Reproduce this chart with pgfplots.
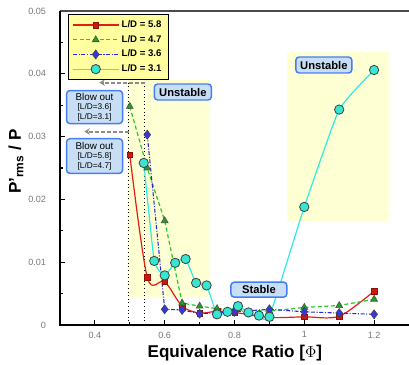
\documentclass[border=0pt]{standalone}
\usepackage{fontspec}
\setmainfont{Liberation Sans}
\usepackage{pgfplots}
\pgfplotsset{compat=1.18}
\usetikzlibrary{arrows.meta}
\definecolor{redline}{RGB}{225,30,20}
\definecolor{redmark}{RGB}{205,25,10}
\definecolor{greenline}{RGB}{40,200,40}
\definecolor{greenmark}{RGB}{30,160,30}
\definecolor{blueline}{RGB}{40,40,220}
\definecolor{bluemark}{RGB}{55,55,225}
\definecolor{cyanline}{RGB}{45,235,225}
\definecolor{cyanmark}{RGB}{55,230,210}
\definecolor{regionyellow}{RGB}{255,255,212}
\definecolor{legendyellow}{RGB}{255,255,160}
\definecolor{boxfill}{RGB}{200,222,245}
\definecolor{boxdraw}{RGB}{70,125,245}
\definecolor{tickgray}{RGB}{120,120,120}
\tikzset{note/.style={draw=boxdraw, fill=boxfill, line width=1.1pt, rounded corners=2.5pt, inner sep=1pt, align=center, font=\bfseries\fontsize{8.4}{9}\selectfont}}
\begin{document}
\begin{tikzpicture}
\begin{axis}[
  scale only axis, width=261.75pt, height=235.5pt,
  xmin=0.3, xmax=1.3, ymin=0, ymax=0.05,
  axis y line*=left,
  xtick pos=bottom,
  clip=false,
  axis line style={draw=black!70, line width=0.9pt},
  xtick={0.4,0.6,0.8,1.0,1.2},
  minor xtick={0.5,0.7,0.9,1.1},
  ytick={0,0.01,0.02,0.03,0.04,0.05},
  minor ytick={0.005,0.015,0.025,0.035,0.045},
  scaled y ticks=false, scaled x ticks=false,
  tick align=inside,
  major tick length=3.75pt, minor tick length=2.25pt,
  tick style={black, line width=0.8pt},
  /pgf/number format/assume math mode=true,
  yticklabel style={/pgf/number format/fixed, /pgf/number format/precision=2, xshift=-7pt},
  xticklabel style={/pgf/number format/fixed, yshift=-1.5pt},
  ticklabel style={font=\fontsize{6.8}{7}\selectfont, text=tickgray},
  xlabel={Equivalence Ratio [$\Phi$]},
  ylabel={P'\textsubscript{rms} / P},
  every axis x label/.style={at={(rel axis cs:0.501,-0.089)}, anchor=center, font=\bfseries\fontsize{12.8}{15}\selectfont},
  every axis y label/.style={at={(rel axis cs:-0.126,0.52)}, anchor=center, rotate=90, font=\bfseries\fontsize{12.8}{15}\selectfont},
  legend style={at={(rel axis cs:0.023,0.99)}, anchor=north west, fill=legendyellow, draw=black, line width=0.7pt, font=\bfseries\fontsize{7.2}{8}\selectfont, row sep=0.3pt, inner xsep=3pt, inner ysep=2.5pt},
  legend cell align=left,
  legend image code/.code={\draw[mark repeat=2, mark phase=2] plot coordinates {(0pt,0pt) (17pt,0pt) (34pt,0pt)};},
]
% highlighted regions
\fill[regionyellow] (axis cs:0.492,0.0044) rectangle (axis cs:0.730,0.0390);
\fill[regionyellow] (axis cs:0.950,0.0165) rectangle (axis cs:1.242,0.0434);
% blow-out limits
\draw[black, dotted, line width=0.7pt] (axis cs:0.497,0) -- (axis cs:0.497,0.0386);
\draw[black, dotted, line width=0.7pt] (axis cs:0.543,0) -- (axis cs:0.543,0.0386);

\addplot[redline, line width=0.9pt, smooth, tension=0.5, mark=square*, mark size=2pt,
  mark options={fill=redmark, draw=redmark!70!black, line width=0.3pt, solid}]
  coordinates {(0.50,0.0271) (0.55,0.0076) (0.60,0.0069) (0.65,0.0030) (0.70,0.0019) (0.75,0.0022) (0.80,0.0020) (0.90,0.0012) (1.00,0.0013) (1.10,0.0014) (1.20,0.0054)};
\addlegendentry{L/D = 5.8}
\addplot[greenline, line width=0.9pt, dash pattern=on 3pt off 2pt, mark=triangle*, mark size=3pt,
  mark options={fill=greenmark, draw=black!70, line width=0.4pt, solid}]
  coordinates {(0.50,0.0348) (0.55,0.0250) (0.60,0.0166) (0.65,0.0035) (0.70,0.0030) (0.75,0.0026) (0.80,0.0024) (0.90,0.0022) (1.00,0.0028) (1.10,0.0031) (1.20,0.0041)};
\addlegendentry{L/D = 4.7}
\addplot[blueline, line width=0.8pt, dash pattern=on 3pt off 1.2pt on 0.8pt off 1.2pt, mark=diamond*, mark size=3.4pt,
  mark options={fill=bluemark, draw=black!75, line width=0.4pt, solid}]
  coordinates {(0.55,0.0303) (0.60,0.0025) (0.65,0.0024) (0.70,0.0018) (0.80,0.0021) (0.90,0.0025) (1.00,0.0021) (1.10,0.0019) (1.20,0.0017)};
\addlegendentry{L/D = 3.6}
\addplot[cyanline, line width=0.9pt, smooth, tension=0.25, mark=*, mark size=3.5pt,
  mark options={fill=cyanmark, draw=black!75, line width=0.6pt, solid}]
  coordinates {(0.54,0.0258) (0.57,0.0102) (0.60,0.0079) (0.63,0.0099) (0.66,0.0105) (0.69,0.0067) (0.72,0.0063) (0.75,0.0017) (0.78,0.0021) (0.81,0.0030) (0.84,0.0020) (0.87,0.0015) (0.90,0.0013) (1.00,0.0188) (1.10,0.0343) (1.20,0.0406)};
\addlegendentry{L/D = 3.1}

% arrows
\draw[black!45, line width=1.5pt, dash pattern=on 3pt off 1.5pt, -{Stealth[length=4pt,width=5pt]}] (axis cs:0.543,0.0386) -- (axis cs:0.413,0.0386);
\draw[black!45, line width=1.5pt, dash pattern=on 3pt off 1.5pt, -{Stealth[length=4pt,width=5pt]}] (axis cs:0.497,0.0308) -- (axis cs:0.370,0.0308);
% notes
\node[note, minimum width=42pt, minimum height=24.75pt, font=\fontsize{7.4}{8}\selectfont] at (axis cs:0.399,0.0347) {Blow out\\[-1pt]{\fontsize{6.2}{7}\selectfont [L/D=3.6]}\\[-1pt]{\fontsize{6.2}{7}\selectfont [L/D=3.1]}};
\node[note, minimum width=42pt, minimum height=26pt, font=\fontsize{7.4}{8}\selectfont] at (axis cs:0.399,0.0269) {Blow out\\[-1pt]{\fontsize{6.2}{7}\selectfont [L/D=5.8]}\\[-1pt]{\fontsize{6.2}{7}\selectfont [L/D=4.7]}};
\node[note, minimum width=42.75pt, minimum height=12pt] at (axis cs:0.652,0.0371) {Unstable};
\node[note, minimum width=42pt, minimum height=12pt] at (axis cs:1.056,0.0414) {Unstable};
\node[note, minimum width=42pt, minimum height=11.25pt] at (axis cs:0.870,0.00563) {Stable};

% heavy left and bottom axis lines
\draw[black, line width=1.5pt] (rel axis cs:0,1) -- (rel axis cs:0,0) -- (rel axis cs:1,0);
\coordinate (bbsw) at (rel axis cs:-0.1719,-0.1274);
\coordinate (bbne) at (rel axis cs:1,1.035);
\end{axis}
\pgfresetboundingbox
\path (bbsw) rectangle (bbne);
\end{tikzpicture}
\end{document}
